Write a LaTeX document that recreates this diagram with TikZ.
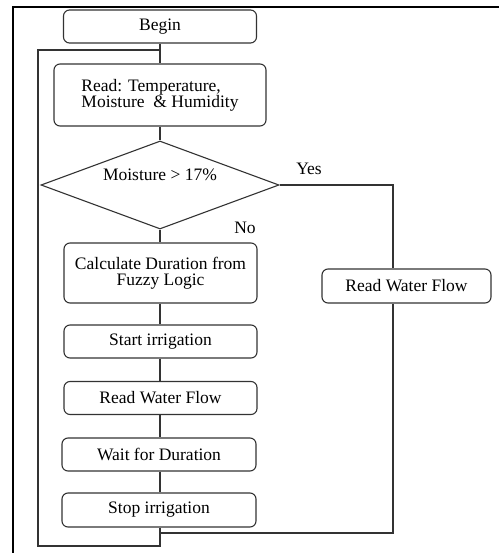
\documentclass[tikz,border=0pt]{standalone}
\usepackage{fontspec}
\setmainfont{Liberation Serif}
\usetikzlibrary{shapes.geometric}
\definecolor{ln}{HTML}{333333}
\tikzset{
  box/.style={draw=ln, line width=1.1pt, rounded corners=6pt, inner sep=0pt, align=center, font=\fontsize{17.5}{16}\selectfont},
  conn/.style={draw=ln, line width=1.1pt},
  lbl/.style={inner sep=0pt, font=\fontsize{17.5}{16}\selectfont}
}
\begin{document}
\begin{tikzpicture}[x=1pt,y=-1pt]
\useasboundingbox (0,0) rectangle (499,553);
\fill[white] (0,0) rectangle (499,553);
% outer frame
\draw[line width=2pt, black] (13,553) -- (13,7) -- (499,7);

\node[box, minimum width=193pt, minimum height=33pt] (begin) at (160,26.5) {Begin};
\node[box, minimum width=212pt, minimum height=62pt, align=left] (read) at (160,95) {Read: Temperature,\\Moisture \ \& Humidity};
\node[draw=ln, line width=1.1pt, shape=diamond, inner sep=0pt, minimum width=238pt, minimum height=88pt] (dec) at (160,185) {};
\node[lbl] (dectext) at (160,175) {Moisture > 17\%};
\node[box, minimum width=193pt, minimum height=60pt] (calc) at (160.5,273) {Calculate Duration from\\Fuzzy Logic};
\node[box, minimum width=193pt, minimum height=33pt] (start) at (160.5,341.5) {Start irrigation};
\node[box, minimum width=193pt, minimum height=33pt] (rwf1) at (160.5,398) {Read Water Flow};
\node[box, minimum width=194pt, minimum height=33pt] (wait) at (159,454.5) {Wait for Duration};
\node[box, minimum width=194pt, minimum height=34pt] (stop) at (159,510) {Stop irrigation};
\node[box, minimum width=169pt, minimum height=34pt] (rwf2) at (406.5,286) {Read Water Flow};

\node[lbl] (yes) at (309,169) {Yes};
\node[lbl] (no) at (245,228) {No};

\coordinate (lb) at (38,546);
\coordinate (lt) at (38,50);
\coordinate (rj) at (160,533);
\coordinate (rx) at (393,0);
\coordinate (cx) at (160,0);

\draw[conn] (begin.south) -- (read.north);
\draw[conn] (read.south) -- (dec.north);
\draw[conn] (dec.south) -- (calc.north -| cx);
\draw[conn] (calc.south -| cx) -- (start.north -| cx);
\draw[conn] (start.south -| cx) -- (rwf1.north -| cx);
\draw[conn] (rwf1.south -| cx) -- (wait.north -| cx);
\draw[conn] (wait.south -| cx) -- (stop.north -| cx);
\draw[conn] (dec.east) -| (rwf2.north -| rx);
\draw[conn] (rwf2.south -| rx) |- (rj);
\draw[conn] (stop.south -| cx) -- (lb -| cx) -- (lb) -- (lt) -- (lt -| cx);
\end{tikzpicture}
\end{document}
